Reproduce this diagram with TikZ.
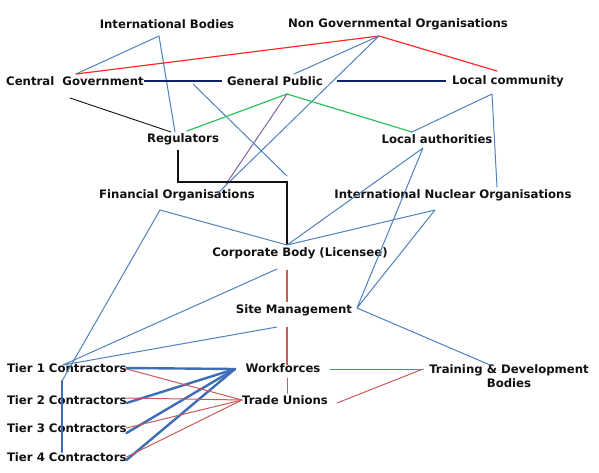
\documentclass[tikz,border=0pt]{standalone}
\usepackage{fontspec}
\setmainfont{DejaVu Sans}
\usepackage{xcolor}
\usetikzlibrary{arrows.meta,positioning,calc}
\definecolor{linkblue}{HTML}{4F81BD}
\definecolor{tierblue}{HTML}{3E6DB5}
\definecolor{linkred}{HTML}{CC5A57}
\definecolor{brightred}{HTML}{FF2A2A}
\definecolor{linkgreen}{HTML}{2EC162}
\definecolor{linkpurple}{HTML}{8064A2}
\definecolor{navy}{HTML}{0F2466}
\definecolor{ink}{HTML}{111111}
\tikzset{
    every picture/.style={line cap=round,line join=round},
    party/.style={inner sep=0pt,outer sep=0pt,text=ink,
      font=\bfseries\fontsize{11.7}{14}\selectfont,align=center},
    tier/.style={party,anchor=west},
    thinlink/.style={draw=linkblue,line width=1pt},
    tierlink/.style={draw=tierblue,line width=2.4pt},
    redlink/.style={draw=linkred,line width=1pt},
    redbar/.style={draw=linkred,line width=2.8pt,line cap=butt},
    toplink/.style={draw=brightred,line width=1.2pt},
    greenlink/.style={draw=linkgreen,line width=1.2pt},
    purplelink/.style={draw=linkpurple,line width=1pt},
    navylink/.style={draw=navy,line width=2.6pt,line cap=butt},
    blacklink/.style={draw=ink,line width=2.8pt,line cap=butt,line join=miter}
}
\begin{document}
\begin{tikzpicture}[x=1pt,y=-1pt]
  \useasboundingbox (0,0) rectangle (599,472);
  % parties
  \node[party] (intl)  at (167,24)  {International Bodies};
  \node[party] (ngo)   at (398,24)  {Non Governmental Organisations};
  \node[party] (cgov)  at (75,81)   {Central\ \ Government};
  \node[party] (pub)   at (275,81)  {General Public};
  \node[party] (lcom)  at (508,81)  {Local community};
  \node[party] (reg)   at (183,139) {Regulators};
  \node[party] (lauth) at (437,139) {Local authorities};
  \node[party] (fin)   at (177,195) {Financial Organisations};
  \node[party] (ino)   at (453,195) {International Nuclear Organisations};
  \node[party] (corp)  at (300,253) {Corporate Body (Licensee)};
  \node[party] (site)  at (294,310) {Site Management};
  \node[tier]  (tone)   at (7,368) {Tier 1 Contractors};
  \node[tier]  (ttwo)   at (7,400) {Tier 2 Contractors};
  \node[tier]  (tthree) at (7,428) {Tier 3 Contractors};
  \node[tier]  (tfour)  at (7,457) {Tier 4 Contractors};
  \node[party] (work)  at (283,368) {Workforces};
  \node[party] (union) at (285,400) {Trade Unions};
  \node[party] (train) at (509,376) {Training \& Development\\Bodies};

  % attachment points
  \coordinate (intl-b)  at (159,36);
  \coordinate (ngo-b)   at (379,36);
  \coordinate (cgov-t)  at (76,74);
  \coordinate (cgov-b)  at (70,98);
  \coordinate (pub-t)   at (294,74);
  \coordinate (pub-b)   at (287,94);
  \coordinate (lcom-t)  at (497,71);
  \coordinate (lcom-b)  at (492,94);
  \coordinate (reg-tl)  at (171,132);
  \coordinate (reg-t)   at (175,132);
  \coordinate (reg-tr)  at (187,131);
  \coordinate (reg-b)   at (178,150);
  \coordinate (reg-turn) at (178,182);
  \coordinate (lauth-t) at (412,132);
  \coordinate (lauth-b) at (423,148);
  \coordinate (fin-t)   at (218,193);
  \coordinate (fin-tr)  at (226,184);
  \coordinate (fin-b)   at (160,210);
  \coordinate (ino-t)   at (497,187);
  \coordinate (ino-b)   at (435,210);
  \coordinate (gov-mid) at (193,84);
  \coordinate (corp-up) at (287,176);
  \coordinate (corp-t)  at (287,245);
  \coordinate (corp-bl) at (277,269);
  \coordinate (corp-b)  at (287,270);
  \coordinate (site-t)  at (287,302);
  \coordinate (site-b)  at (287,327);
  \coordinate (site-bl) at (277,327);
  \coordinate (site-r)  at (357,308);
  \coordinate (tone-j)  at (63,365);
  \coordinate (tone-jb) at (62,381);
  \coordinate (tfour-j) at (62,452);
  \coordinate (work-l)  at (235,369);
  \coordinate (work-r)  at (330,369);
  \coordinate (work-t)  at (287,365);
  \coordinate (work-b)  at (287,378);
  \coordinate (union-l) at (242,400);
  \coordinate (union-t) at (287,393);
  \coordinate (union-r) at (337,403);
  \coordinate (train-l) at (423,369);
  \coordinate (train-t) at (490,365);

  % top of the map
  \draw[thinlink] (cgov-t)--(intl-b)--(reg-t);
  \draw[toplink] (cgov-t)--(ngo-b)--(lcom-t);
  \draw[thinlink] (pub-t)--(ngo-b)--(fin-t);
  \draw[navylink,shorten >=5pt] (cgov.east)--(pub.west);
  \draw[navylink,shorten <=14pt,shorten >=6pt] (pub.east)--(lcom.west);
  \draw[thinlink] (gov-mid)--(corp-up);
  \draw[draw=ink,line width=0.9pt] (cgov-b)--(reg-tl);
  \draw[greenlink] (reg-tr)--(pub-b)--(lauth-t);
  \draw[purplelink] (pub-b)--(fin-tr);
  \draw[thinlink] (lauth-t)--(lcom-b)--(ino-t);
  \draw[blacklink] (reg-b)--(reg-turn)-|(corp-t);

  % middle
  \draw[thinlink] (fin-b)--(corp-t)--(lauth-b)--(site-r)--(ino-b)--(corp-t);
  \draw[thinlink] (fin-b)--(tone-jb);
  \draw[thinlink] (corp-bl)--(tone-j)--(site-bl);
  \draw[thinlink] (site-r)--(train-t);
  \draw[redbar] (corp-b)--(site-t);
  \draw[redbar] (site-b)--(work-t);
  \draw[redlink] (work-b)--(union-t);

  % contractors
  \draw[tierlink] (tone-jb)--(tfour-j);
  \foreach \t/\dy in {tone/0,ttwo/3,tthree/5,tfour/3}
    \draw[tierlink] ([yshift=-\dy pt]\t.east)--(work-l);
  \foreach \t/\dy in {tone/1,ttwo/-2,tthree/0,tfour/0}
    \draw[redlink] ([yshift=-\dy pt]\t.east)--(union-l);
  \draw[thinlink] (work-r)--(train-l);
  \draw[redlink] (union-r)--(train-l);
\end{tikzpicture}
\end{document}
